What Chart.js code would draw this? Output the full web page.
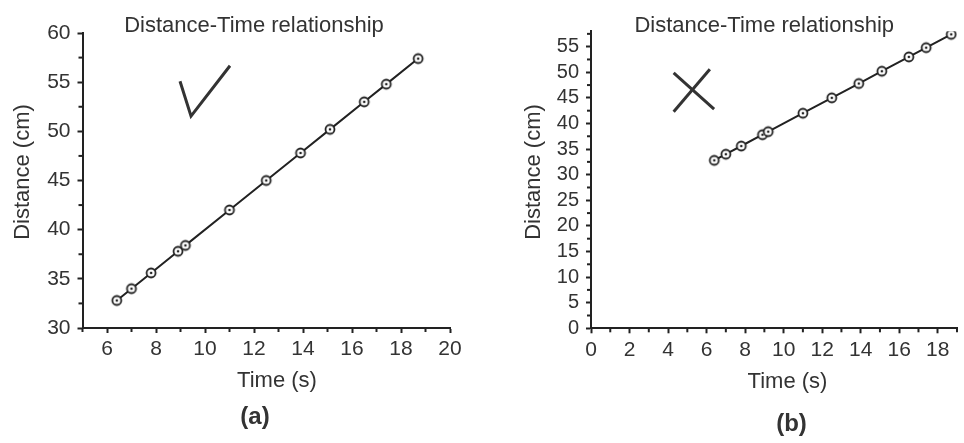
<!DOCTYPE html>
<html>
<head>
<meta charset="utf-8">
<title>Distance-Time relationship</title>
<script src="https://cdn.jsdelivr.net/npm/chart.js@4.4.1/dist/chart.umd.min.js"></script>
<style>
  html, body { margin: 0; padding: 0; background: #fff; }
  #wrap { position: relative; width: 964px; height: 443px; overflow: hidden; }
  #chart-a { position: absolute; left: 0; top: 0; }
  #chart-b { position: absolute; left: 480px; top: 0; }
</style>
</head>
<body>
<div id="wrap">
  <canvas id="chart-a" width="480" height="443"></canvas>
  <canvas id="chart-b" width="484" height="443"></canvas>
</div>
<script>
// values - both panels plot the same readings
const times = [6.4, 7.0, 7.8, 8.9, 9.2, 11.0, 12.5, 13.9, 15.1, 16.5, 17.4, 18.7];
const distances = [32.8, 34.0, 35.6, 37.8, 38.4, 42.0, 45.0, 47.8, 50.2, 53.0, 54.8, 57.4];

// panel (a): axis starts at 30
const xTicksA = [6, 8, 10, 12, 14, 16, 18, 20];
const xMinorA = [5, 7, 9, 11, 13, 15, 17, 19];
const yTicksA = [30, 35, 40, 45, 50, 55, 60];
const yMinorA = [32.5, 37.5, 42.5, 47.5, 52.5, 57.5];

// panel (b): axis starts at 0
const xTicksB = [0, 2, 4, 6, 8, 10, 12, 14, 16, 18];
const xMinorB = [1, 3, 5, 7, 9, 11, 13, 15, 17, 19];
const yTicksB = [0, 5, 10, 15, 20, 25, 30, 35, 40, 45, 50, 55];
const yMinorB = [2.5, 7.5, 12.5, 17.5, 22.5, 27.5, 32.5, 37.5, 42.5, 47.5, 52.5, 57.5];

const titleText = "Distance-Time relationship";
const xTitle = "Time (s)", yTitle = "Distance (cm)";

const FONT = '"Liberation Sans", Arial, sans-serif';
const INK = '#333', AXIS = '#222';

// open circle with a dot in the middle
function ringDot() {
  const c = document.createElement('canvas'); c.width = c.height = 14;
  const g = c.getContext('2d');
  g.beginPath(); g.arc(7, 7, 4.5, 0, Math.PI * 2);
  g.fillStyle = '#fff'; g.fill(); g.lineWidth = 1.8; g.strokeStyle = AXIS; g.stroke();
  g.beginPath(); g.arc(7, 7, 1.3, 0, Math.PI * 2); g.fillStyle = AXIS; g.fill();
  return c;
}
const dot = ringDot();

// minor ticks, the tick / cross marks and the captions
const decor = {
  id: 'decor',
  afterDraw(chart, args, o) {
    const { ctx, scales: { x, y } } = chart;
    ctx.save();
    ctx.strokeStyle = AXIS; ctx.lineWidth = 2;
    o.xMinor.forEach(v => { const px = x.getPixelForValue(v); ctx.beginPath(); ctx.moveTo(px, y.bottom); ctx.lineTo(px, y.bottom + 4); ctx.stroke(); });
    o.yMinor.forEach(v => { const py = y.getPixelForValue(v); ctx.beginPath(); ctx.moveTo(x.left, py); ctx.lineTo(x.left - 4, py); ctx.stroke(); });

    ctx.strokeStyle = INK; ctx.lineWidth = 3; ctx.lineCap = 'butt'; ctx.lineJoin = 'miter';
    o.marks.forEach(path => {
      ctx.beginPath();
      path.forEach(([a, b], i) => { const px = x.getPixelForValue(a), py = y.getPixelForValue(b); i ? ctx.lineTo(px, py) : ctx.moveTo(px, py); });
      ctx.stroke();
    });

    ctx.fillStyle = INK; ctx.textAlign = 'center';
    o.texts.forEach(t => {
      ctx.save(); ctx.translate(t.x, t.y); if (t.rot) ctx.rotate(t.rot);
      ctx.font = t.font; ctx.textBaseline = t.base || 'alphabetic';
      ctx.fillText(t.text, 0, 0); ctx.restore();
    });
    ctx.restore();
  }
};

function axis(min, max, ticks, size, horiz, tickFont) {
  return {
    type: 'linear', min, max,
    afterBuildTicks: s => { s.ticks = ticks.map(v => ({ value: v })); },
    afterFit: s => { if (horiz) s.height = size; else s.width = size; },
    border: { color: AXIS, width: 2 },
    grid: { drawOnChartArea: false, tickLength: 5, tickWidth: 2, tickColor: AXIS },
    ticks: { autoSkip: false, maxRotation: 0, color: INK, padding: horiz ? 4 : 7, font: { family: FONT, size: tickFont } }
  };
}

function makeChart(id, c) {
  return new Chart(document.getElementById(id), {
    type: 'line',
    data: { datasets: [{
      data: times.map((t, i) => ({ x: t, y: distances[i] })),
      borderColor: AXIS, borderWidth: 2, tension: 0,
      pointStyle: dot, pointRadius: 5
    }] },
    options: {
      responsive: false, animation: false,
      layout: { padding: c.pad },
      plugins: {
        legend: { display: false }, tooltip: { enabled: false },
        decor: { xMinor: c.xMinor, yMinor: c.yMinor, marks: c.marks, texts: c.texts }
      },
      scales: {
        x: axis(c.xMin, c.xMax, c.xTicks, c.xH, true, 21),
        y: axis(c.yMin, c.yMax, c.yTicks, c.yW, false, c.yFont)
      }
    },
    plugins: [decor]
  });
}

const cap = 'normal 22px ' + FONT, bold = 'bold 24px ' + FONT;

makeChart('chart-a', {
  pad: { left: 0, top: 33, right: 30, bottom: 0 },
  xMin: 5, xMax: 20, yMin: 30, yMax: 60, xH: 115, yW: 82.5, yFont: 21,
  xTicks: xTicksA, xMinor: xMinorA, yTicks: yTicksA, yMinor: yMinorA,
  marks: [[[8.98, 55.1], [9.43, 51.55], [11.02, 56.67]]],
  texts: [
    { text: titleText, x: 254, y: 32.3, font: cap },
    { text: xTitle, x: 277, y: 386.7, font: cap },
    { text: yTitle, x: 23, y: 172, font: cap, rot: -Math.PI / 2, base: 'middle' },
    { text: '(a)', x: 255, y: 417, font: bold, base: 'middle' }
  ]
});

makeChart('chart-b', {
  pad: { left: 0, top: 31.3, right: 4, bottom: 0 },
  xMin: 0, xMax: 19, yMin: 0, yMax: 58, xH: 114.7, yW: 111, yFont: 20,
  xTicks: xTicksB, xMinor: xMinorB, yTicks: yTicksB, yMinor: yMinorB,
  marks: [[[4.29, 49.9], [6.39, 42.8]], [[6.17, 50.6], [4.29, 42.3]]],
  texts: [
    { text: titleText, x: 284.2, y: 32.3, font: cap },
    { text: xTitle, x: 307.5, y: 387.7, font: cap },
    { text: yTitle, x: 54, y: 172, font: cap, rot: -Math.PI / 2, base: 'middle' },
    { text: '(b)', x: 311.5, y: 424, font: bold, base: 'middle' }
  ]
});
</script>
</body>
</html>
